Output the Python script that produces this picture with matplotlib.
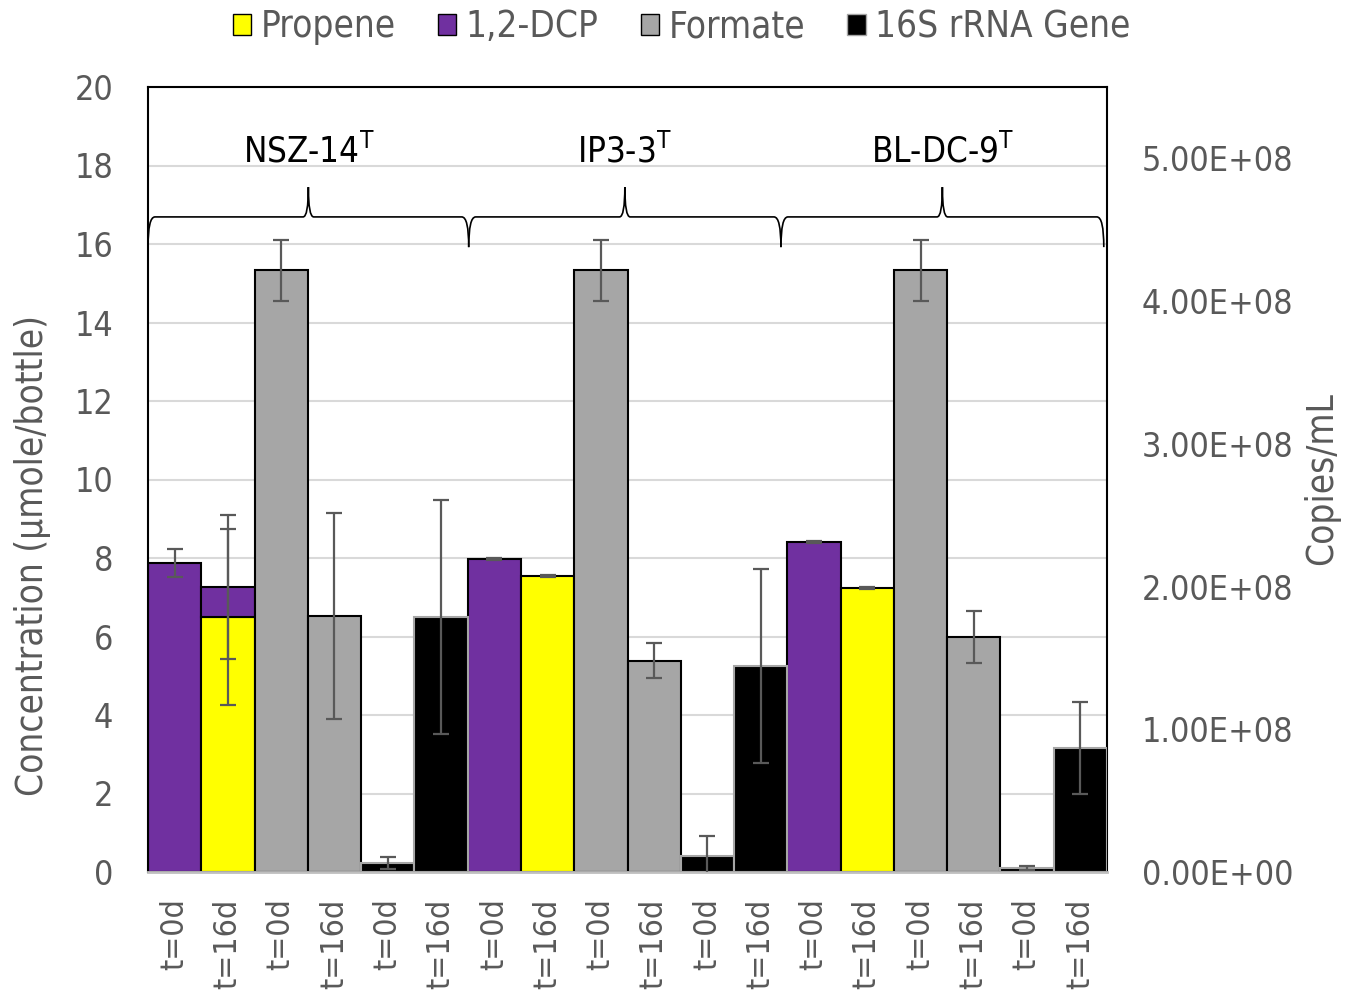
import matplotlib
matplotlib.use("Agg")
import matplotlib.pyplot as plt
from matplotlib import font_manager as fm
from matplotlib.patches import Patch, PathPatch
from matplotlib.path import Path
import numpy as np

# ---------------- data ----------------
strains = ["NSZ-14", "IP3-3", "BL-DC-9"]
tick_labels = ["t=0d", "t=16d", "t=0d", "t=16d", "t=0d", "t=16d"] * 3

dcp_t0 = [7.87, 7.97, 8.41]
dcp_t0_err = [0.36, 0.02, 0.02]
propene_t16 = [6.50, 7.54, 7.24]
propene_t16_err = [2.25, 0.02, 0.02]
dcp_t16 = [0.76, 0.0, 0.0]
dcp_t16_err = [1.83, 0.0, 0.0]
formate_t0 = [15.33, 15.33, 15.33]
formate_t0_err = [0.78, 0.78, 0.78]
formate_t16 = [6.52, 5.38, 5.99]
formate_t16_err = [2.62, 0.45, 0.66]
gene_t0 = [6.3e6, 1.12e7, 2.8e6]
gene_t0_err = [4.5e6, 1.4e7, 1.4e6]
gene_t16 = [1.786e8, 1.443e8, 8.68e7]
gene_t16_err = [8.2e7, 6.8e7, 3.2e7]

# ---------------- style ----------------
names = fm.fontManager.ttflist
has_cond = any(f.name == "DejaVu Sans" and f.stretch == "condensed" for f in names)
plt.rcParams["font.family"] = ["DejaVu Sans"]
if has_cond:
    plt.rcParams["font.stretch"] = "condensed"
plt.rcParams["mathtext.fontset"] = "custom"

FS_X = 23
FS_Y = 24.5
FS_LAB = 26.5
FS_LEG = 26.5
FS_BR = 25
GRAY_TXT = "#595959"
C_PROP = "#FFFF00"
C_DCP = "#7030A0"
C_FORM = "#A6A6A6"
C_GENE = "#000000"
ERR_C = "#595959"

fig = plt.figure(figsize=(13.47, 9.92), dpi=100)
ax = fig.add_axes([148 / 1347, 1 - 872 / 992, (1107 - 148) / 1347, (872 - 87) / 992])
ax2 = ax.twinx()

W = 1.0
ekw = dict(ecolor=ERR_C, elinewidth=1.6, capsize=6, capthick=1.6)
for g in range(3):
    b = 6 * g
    ax.bar(b + 0, dcp_t0[g], W, color=C_DCP, edgecolor="black", linewidth=1.5,
           yerr=dcp_t0_err[g], error_kw=ekw, zorder=2)
    ax.bar(b + 1, propene_t16[g], W, color=C_PROP, edgecolor="black", linewidth=1.5,
           yerr=propene_t16_err[g], error_kw=ekw, zorder=2)
    if dcp_t16[g] > 0:
        ax.bar(b + 1, dcp_t16[g], W, bottom=propene_t16[g], color=C_DCP, edgecolor="black",
               linewidth=1.5, yerr=dcp_t16_err[g], error_kw=ekw, zorder=2)
    ax.bar(b + 2, formate_t0[g], W, color=C_FORM, edgecolor="black", linewidth=1.5,
           yerr=formate_t0_err[g], error_kw=ekw, zorder=2)
    ax.bar(b + 3, formate_t16[g], W, color=C_FORM, edgecolor="black", linewidth=1.5,
           yerr=formate_t16_err[g], error_kw=ekw, zorder=2)
    ax2.bar(b + 4, gene_t0[g], W, color=C_GENE, edgecolor="#A6A6A6", linewidth=1.5,
            yerr=gene_t0_err[g], error_kw=ekw, zorder=2)
    ax2.bar(b + 5, gene_t16[g], W, color=C_GENE, edgecolor="#A6A6A6", linewidth=1.5,
            yerr=gene_t16_err[g], error_kw=ekw, zorder=2)

ax.set_xlim(-0.5, 17.5)
ax.set_ylim(0, 20)
ax.set_yticks(np.arange(0, 21, 2))
ax.grid(axis="y", color="#D9D9D9", linewidth=1.5, zorder=0)
ax.set_axisbelow(True)
ax.set_xticks(np.arange(18))
ax.set_xticklabels(tick_labels, rotation=90, fontsize=FS_X, color=GRAY_TXT, va="top")
ax.tick_params(axis="x", length=0, pad=19)
ax.tick_params(axis="y", length=0, pad=25, labelsize=FS_Y, labelcolor=GRAY_TXT)

ax2.set_ylim(0, 5.5e8)
gene_ticks = np.arange(0, 5.01e8, 1e8)
ax2.set_yticks(gene_ticks)
ax2.set_yticklabels(["{:.2E}".format(v) for v in gene_ticks])
ax2.tick_params(axis="y", length=0, pad=25, labelsize=FS_Y, labelcolor=GRAY_TXT)

fig.text(33 / 1347, 1 - 556 / 992, "Concentration (µmole/bottle)", rotation=90,
         ha="center", va="center", fontsize=FS_LAB, color=GRAY_TXT)
fig.text(1322 / 1347, 1 - 479 / 992, "Copies/mL", rotation=90,
         ha="center", va="center", fontsize=FS_LAB, color=GRAY_TXT)

for s in ["left", "top", "right"]:
    ax.spines[s].set_color("black")
    ax.spines[s].set_linewidth(1.5)
ax.spines["bottom"].set_color("#BFBFBF")
ax.spines["bottom"].set_linewidth(2)
for s in ax2.spines.values():
    s.set_visible(False)

# braces
spans = [(-0.5, 5.52), (5.52, 11.38), (11.38, 17.44)]
ybot, ymid, ytip = 15.92, 16.69, 17.45
d0, dt = 0.13, 0.1
for (x0, x1), name in zip(spans, strains):
    xm = (x0 + x1) / 2
    verts = [(x0, ybot), (x0, ymid), (x0 + d0, ymid),
             (xm - dt, ymid),
             (xm, ymid), (xm, ytip),
             (xm, ymid), (xm + dt, ymid),
             (x1 - d0, ymid),
             (x1, ymid), (x1, ybot)]
    codes = [Path.MOVETO, Path.CURVE3, Path.CURVE3,
             Path.LINETO,
             Path.CURVE3, Path.CURVE3,
             Path.CURVE3, Path.CURVE3,
             Path.LINETO,
             Path.CURVE3, Path.CURVE3]
    ax2.add_patch(PathPatch(Path(verts, codes), transform=ax.transData,
                            fill=False, edgecolor="black", linewidth=1.2, zorder=5))
    ax.text(xm, 18.35, name + r"$^{\mathregular{T}}$", ha="center", va="center",
            fontsize=FS_BR, color="black", zorder=6)

handles = [Patch(facecolor=C_PROP, edgecolor="black", label="Propene"),
           Patch(facecolor=C_DCP, edgecolor="black", label="1,2-DCP"),
           Patch(facecolor=C_FORM, edgecolor="black", label="Formate"),
           Patch(facecolor=C_GENE, edgecolor="#A6A6A6", label="16S rRNA Gene")]
leg = fig.legend(handles=handles, loc="upper center", bbox_to_anchor=(0.506, 1.025), ncol=4,
                 frameon=False, fontsize=FS_LEG, handlelength=0.5, handleheight=0.5,
                 handletextpad=0.25, columnspacing=1.15)
for t in leg.get_texts():
    t.set_color(GRAY_TXT)

fig.savefig("out.png", dpi=100)
